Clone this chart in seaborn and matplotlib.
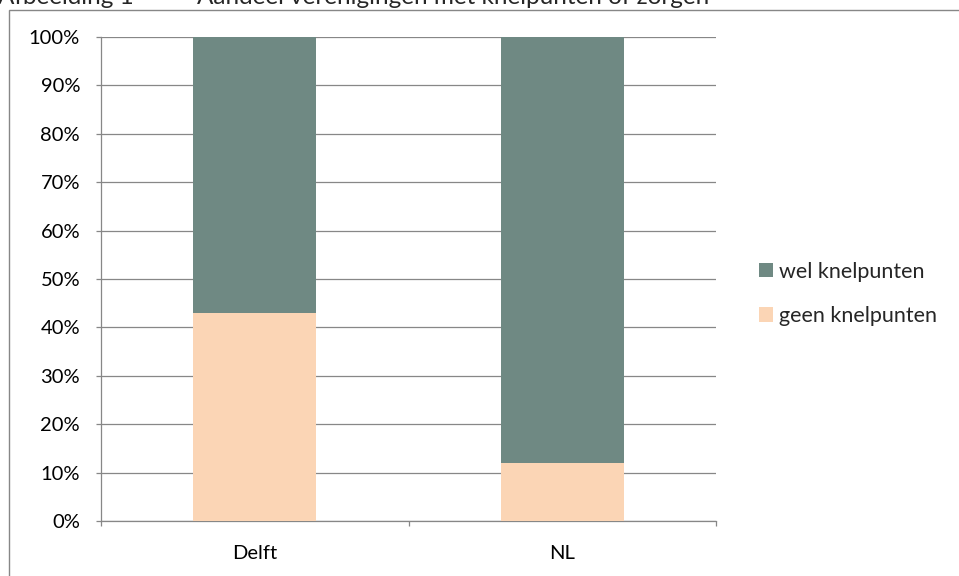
import matplotlib
matplotlib.use("Agg")
import matplotlib.pyplot as plt
import matplotlib.patches as mpatches
import seaborn as sns
import pandas as pd
import numpy as np

categories = ["Delft", "NL"]
geen_knelpunten = [43, 12]
wel_knelpunten = [57, 88]
series_labels = ["wel knelpunten", "geen knelpunten"]
ytick_values = [0, 10, 20, 30, 40, 50, 60, 70, 80, 90, 100]
title_prefix = "Afbeelding 1"
title_text = "Aandeel verenigingen met knelpunten of zorgen"

DARK = "#6F8983"
PEACH = "#FBD5B5"
GRID = "#878787"
FONT = ["Lato", "DejaVu Sans"]
FS = 14.5
LFS = 15.5

sns.set_theme(style="white")
plt.rcParams["font.family"] = FONT

df = pd.DataFrame({
    "cat": categories,
    "geen": geen_knelpunten,
    "total": [g + w for g, w in zip(geen_knelpunten, wel_knelpunten)],
})

fig = plt.figure(figsize=(9.59, 5.76), dpi=100)
ax = fig.add_axes([101/959, 1 - 521/576, (716-101)/959, (521-37)/576])

sns.barplot(data=df, x="cat", y="total", color=DARK, width=0.4, ax=ax,
            saturation=1, zorder=3, linewidth=0)
sns.barplot(data=df, x="cat", y="geen", color=PEACH, width=0.4, ax=ax,
            saturation=1, zorder=3, linewidth=0)

ax.set_xlim(-0.5, 1.5)
ax.set_ylim(0, 100)
ax.set_yticks(ytick_values)
ax.set_yticklabels([f"{v}%" for v in ytick_values])
ax.set_xlabel("")
ax.set_ylabel("")

ax.yaxis.grid(True, color=GRID, linewidth=0.9, zorder=1)
ax.set_axisbelow(True)
for s in ["top", "right"]:
    ax.spines[s].set_visible(False)
for s in ["left", "bottom"]:
    ax.spines[s].set_color(GRID)
    ax.spines[s].set_linewidth(0.9)

ax.tick_params(axis="y", which="major", length=3.6, width=0.9, color=GRID,
               direction="out", pad=11.5, labelsize=FS, labelcolor="black", left=True)
ax.tick_params(axis="x", which="major", length=0, pad=17.5, labelsize=FS,
               labelcolor="black")
ax.set_xticks([-0.5, 0.5, 1.5], minor=True)
ax.tick_params(axis="x", which="minor", length=3.6, width=0.9, color=GRID,
               direction="out", bottom=True)

handles = [mpatches.Patch(facecolor=DARK, edgecolor="none", label=series_labels[0]),
           mpatches.Patch(facecolor=PEACH, edgecolor="none", label=series_labels[1])]
fig.legend(handles=handles, loc="center left", bbox_to_anchor=(759/959, 1 - 294/576),
           bbox_transform=fig.transFigure, frameon=False, fontsize=LFS,
           handlelength=0.66, handleheight=0.66, handletextpad=0.25,
           labelspacing=1.14, borderpad=0, borderaxespad=0)

# outer frame
fig.add_artist(mpatches.Rectangle((9/959, -0.1), 1.2, 1 - 9.5/576 + 0.1,
                                  transform=fig.transFigure, facecolor="none",
                                  edgecolor=GRID, linewidth=1.0))
fig.text(-2/959, 1 - 4/576, title_prefix, fontsize=17.5, va="baseline", ha="left")
fig.text(197/959, 1 - 4/576, title_text, fontsize=17.5, va="baseline", ha="left")

fig.savefig("out.png", dpi=100)
